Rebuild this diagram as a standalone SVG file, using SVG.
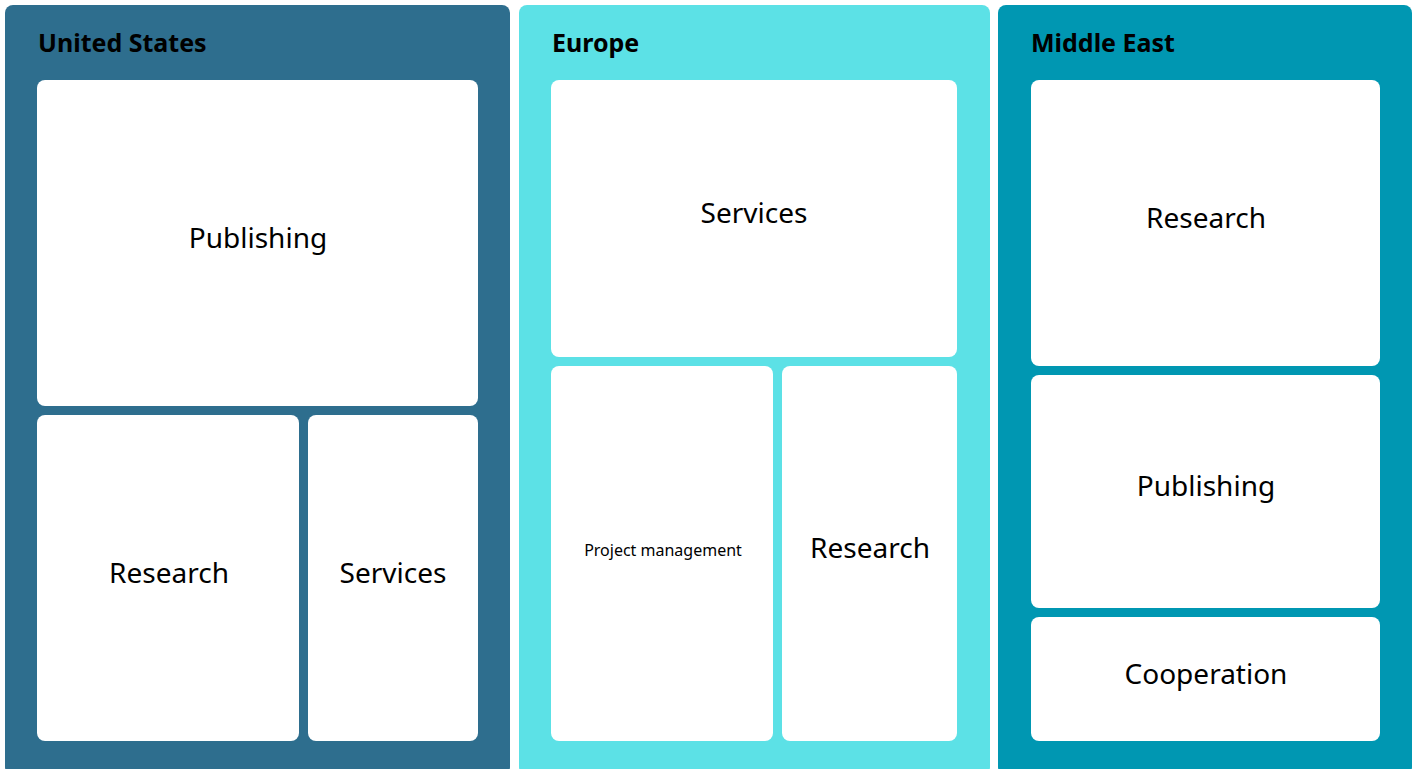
<svg xmlns="http://www.w3.org/2000/svg" width="1417" height="769" viewBox="0 0 1417 769">
<style>
.panel{stroke:none}
.box{fill:#ffffff}
.title{font-family:"Noto Sans","Open Sans",sans-serif;font-weight:bold;font-size:25px;fill:#000}
.lbl{font-family:"Noto Sans","Open Sans",sans-serif;font-size:28px;fill:#000;text-anchor:middle;dominant-baseline:central}
.sm{font-size:16px}
</style>
<rect width="1417" height="769" fill="#ffffff"/>
<g id="us">
<rect class="panel" x="5" y="5" width="505" height="770" rx="8" fill="#2e6e8e"/>
<text class="title" x="38" y="52">United States</text>
</g>
<g id="europe">
<rect class="panel" x="519" y="5" width="471" height="770" rx="8" fill="#5ce1e6"/>
<text class="title" x="552" y="52">Europe</text>
</g>
<g id="middle-east">
<rect class="panel" x="998" y="5" width="414" height="770" rx="8" fill="#0097b2"/>
<text class="title" x="1031" y="52">Middle East</text>
</g>
<g id="us-publishing"><rect class="box" x="37" y="80" width="441" height="326" rx="8"/><text class="lbl" x="258" y="237">Publishing</text></g>
<g id="us-research"><rect class="box" x="37" y="415" width="262" height="326" rx="8"/><text class="lbl" x="169" y="572">Research</text></g>
<g id="us-services"><rect class="box" x="308" y="415" width="170" height="326" rx="8"/><text class="lbl" x="393" y="572">Services</text></g>
<g id="eu-services"><rect class="box" x="551" y="80" width="406" height="277" rx="8"/><text class="lbl" x="754" y="212">Services</text></g>
<g id="eu-pm"><rect class="box" x="551" y="366" width="222" height="375" rx="8"/><text class="lbl sm" x="663" y="550">Project management</text></g>
<g id="eu-research"><rect class="box" x="782" y="366" width="175" height="375" rx="8"/><text class="lbl" x="870" y="547">Research</text></g>
<g id="me-research"><rect class="box" x="1031" y="80" width="349" height="286" rx="8"/><text class="lbl" x="1206" y="217">Research</text></g>
<g id="me-publishing"><rect class="box" x="1031" y="375" width="349" height="233" rx="8"/><text class="lbl" x="1206" y="485">Publishing</text></g>
<g id="me-cooperation"><rect class="box" x="1031" y="617" width="349" height="124" rx="8"/><text class="lbl" x="1206" y="673">Cooperation</text></g>
<g id="connectors"></g>
</svg>
